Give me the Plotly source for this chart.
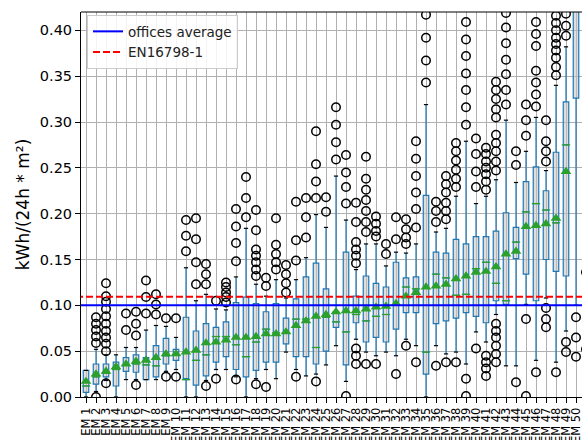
import plotly.graph_objects as go

LABELS = [f"EM {i}" for i in range(1, 52)]

Q1 = [0.005, 0.014, 0.022, 0.012, 0.028, 0.027, 0.019, 0.022, 0.036, 0.040,
      0.019, 0.013, 0.023, 0.038, 0.044, 0.030, 0.022, 0.029, 0.038, 0.038,
      0.058, 0.044, 0.044, 0.036, 0.050, 0.076, 0.035, 0.081, 0.060, 0.065,
      0.060, 0.074, 0.092, 0.092, 0.025, 0.080, 0.083, 0.086, 0.092, 0.088,
      0.081, 0.105, 0.101, 0.151, 0.134, 0.105, 0.150, 0.137, 0.132, 0.326,
      0.350]
MEDIAN = [0.012, 0.022, 0.026, 0.030, 0.035, 0.036, 0.035, 0.034, 0.045, 0.046,
          0.019, 0.040, 0.046, 0.066, 0.066, 0.057, 0.044, 0.060, 0.074, 0.070,
          0.070, 0.085, 0.085, 0.054, 0.087, 0.082, 0.071, 0.090, 0.083, 0.088,
          0.090, 0.100, 0.120, 0.118, 0.049, 0.134, 0.130, 0.111, 0.112, 0.140,
          0.147, 0.124, 0.105, 0.169, 0.202, 0.211, 0.204, 0.190, 0.275, 0.450,
          0.500]
Q3 = [0.029, 0.036, 0.036, 0.038, 0.043, 0.046, 0.043, 0.056, 0.064, 0.052,
      0.087, 0.072, 0.080, 0.076, 0.082, 0.103, 0.109, 0.102, 0.093, 0.102,
      0.086, 0.107, 0.131, 0.146, 0.118, 0.093, 0.158, 0.110, 0.132, 0.124,
      0.120, 0.147, 0.130, 0.131, 0.220, 0.158, 0.157, 0.172, 0.167, 0.175,
      0.175, 0.181, 0.201, 0.185, 0.235, 0.251, 0.225, 0.267, 0.322, 0.550,
      0.600]
WHISKER_LOW = [0.000, 0.006, 0.018, 0.000, 0.019, 0.019, 0.019, 0.019, 0.028, 0.030,
               0.000, 0.000, 0.018, 0.030, 0.030, 0.022, 0.000, 0.020, 0.030, 0.020,
               0.049, 0.030, 0.023, 0.025, 0.035, 0.056, 0.017, 0.063, 0.049, 0.045,
               0.049, 0.045, 0.063, 0.056, 0.000, 0.056, 0.047, 0.049, 0.036, 0.071,
               0.060, 0.090, 0.034, 0.034, 0.101, 0.040, 0.108, 0.038, 0.072, 0.100,
               0.160]
WHISKER_HIGH = [0.029, 0.052, 0.046, 0.046, 0.054, 0.054, 0.073, 0.078, 0.077, 0.065,
                0.141, 0.105, 0.112, 0.096, 0.095, 0.131, 0.184, 0.123, 0.110, 0.128,
                0.108, 0.128, 0.152, 0.199, 0.185, 0.241, 0.193, 0.139, 0.167, 0.167,
                0.143, 0.158, 0.157, 0.167, 0.319, 0.180, 0.184, 0.219, 0.279, 0.211,
                0.219, 0.237, 0.302, 0.234, 0.268, 0.305, 0.247, 0.340, 0.382, 0.700,
                0.750]
MEAN = [0.017, 0.025, 0.028, 0.033, 0.036, 0.039, 0.040, 0.043, 0.047, 0.047,
        0.049, 0.051, 0.059, 0.060, 0.062, 0.065, 0.065, 0.066, 0.069, 0.069,
        0.071, 0.078, 0.083, 0.088, 0.090, 0.093, 0.094, 0.094, 0.096, 0.098,
        0.099, 0.102, 0.110, 0.114, 0.120, 0.121, 0.123, 0.129, 0.132, 0.136,
        0.137, 0.142, 0.156, 0.159, 0.186, 0.187, 0.189, 0.195, 0.246, 0.460,
        0.520]
OUTLIERS = [
    [],
    [0.087, 0.080, 0.073, 0.066, 0.059, 0.000],
    [0.124, 0.110, 0.104, 0.096, 0.088, 0.080, 0.072, 0.065, 0.058, 0.050, 0.015],
    [],
    [0.091, 0.073],
    [0.093, 0.080, 0.067, 0.013],
    [0.127, 0.109, 0.091],
    [0.112, 0.101, 0.090],
    [0.086, 0.022],
    [0.086, 0.022],
    [0.193, 0.176, 0.159],
    [0.195, 0.172, 0.147, 0.123],
    [0.145, 0.134, 0.123, 0.012],
    [0.105, 0.020],
    [0.125, 0.120, 0.114, 0.109, 0.103],
    [0.205, 0.186, 0.168, 0.148, 0.019],
    [0.240, 0.217, 0.196],
    [0.204, 0.182, 0.161, 0.154, 0.147, 0.139, 0.132, 0.014],
    [0.130, 0.121, 0.011],
    [0.195, 0.166, 0.156, 0.147, 0.139],
    [0.144, 0.134, 0.124, 0.114],
    [0.213, 0.171, 0.149, 0.022],
    [0.217, 0.196, 0.174],
    [0.290, 0.254, 0.235, 0.217, 0.017],
    [0.218, 0.202],
    [0.316, 0.297, 0.278, 0.259],
    [0.264, 0.245, 0.229, 0.211, 0.001],
    [0.212, 0.191, 0.169, 0.161, 0.154, 0.146, 0.053, 0.045, 0.036],
    [0.262, 0.238, 0.226, 0.215, 0.203, 0.191, 0.180, 0.036],
    [0.197, 0.189, 0.181, 0.175, 0.036],
    [0.167, 0.156],
    [0.196, 0.172, 0.025],
    [0.194, 0.183, 0.174, 0.167, 0.056],
    [0.279, 0.260, 0.241, 0.223, 0.205, 0.185, 0.038],
    [0.417, 0.392, 0.367, 0.343],
    [0.213, 0.203, 0.191, 0.034],
    [0.241, 0.232, 0.223, 0.212, 0.203, 0.194, 0.038],
    [0.277, 0.268, 0.258, 0.248, 0.238, 0.229, 0.038],
    [0.409, 0.390, 0.372, 0.353, 0.335, 0.316, 0.297, 0.020, 0.001],
    [0.282, 0.265, 0.246, 0.229, 0.053],
    [0.272, 0.265, 0.257, 0.250, 0.243, 0.235, 0.226, 0.045, 0.038, 0.031, 0.023],
    [0.344, 0.335, 0.325, 0.314, 0.305, 0.286, 0.277, 0.268, 0.257, 0.247,
     0.080, 0.072, 0.065, 0.056, 0.047, 0.038],
    [0.419, 0.403, 0.386, 0.368, 0.352, 0.335, 0.319],
    [0.268, 0.253, 0.016],
    [0.319, 0.302, 0.285, 0.085, 0.001],
    [0.409, 0.396, 0.383, 0.356, 0.343, 0.330, 0.317, 0.027],
    [0.302, 0.279, 0.268, 0.257, 0.097, 0.085, 0.076],
    [0.416, 0.408, 0.400, 0.392, 0.385, 0.378, 0.370, 0.360, 0.351, 0.027],
    [0.418, 0.405, 0.394, 0.060, 0.049],
    [0.087, 0.065, 0.044],
    [0.136, 0.052],
]

OFFICES_AVERAGE = 0.100
EN16798_1 = 0.1095
Y_TICKS = [0.00, 0.05, 0.10, 0.15, 0.20, 0.25, 0.30, 0.35, 0.40]

POS = list(range(1, len(LABELS) + 1))
FONT = "DejaVu Sans"
BLUE_BOX = "#1f77b4"
GREEN = "#2ca02c"

fig = go.Figure()

fig.add_trace(go.Box(
    x=POS, q1=Q1, median=MEDIAN, q3=Q3,
    lowerfence=WHISKER_LOW, upperfence=WHISKER_HIGH,
    width=0.55, whiskerwidth=0, boxpoints=False,
    line=dict(color=BLUE_BOX, width=1.2),
    fillcolor="rgba(195,195,195,0.55)", showlegend=False, hoverinfo="skip",
))

# caps
fig.add_trace(go.Scatter(
    x=POS + POS, y=WHISKER_LOW + WHISKER_HIGH, mode="markers",
    marker=dict(symbol="line-ew", size=3, line=dict(color="black", width=1.2)),
    showlegend=False, hoverinfo="skip",
))

# medians
fig.add_trace(go.Scatter(
    x=POS, y=MEDIAN, mode="markers",
    marker=dict(symbol="line-ew", size=6, line=dict(color=GREEN, width=1.3)),
    showlegend=False, hoverinfo="skip",
))

# outliers
ox, oy = [], []
for p, vals in zip(POS, OUTLIERS):
    for v in vals:
        ox.append(p)
        oy.append(v)
fig.add_trace(go.Scatter(
    x=ox, y=oy, mode="markers",
    marker=dict(symbol="circle-open", size=8.5, color="black", line=dict(width=1.5)),
    showlegend=False, hoverinfo="skip",
))

# means
fig.add_trace(go.Scatter(
    x=POS, y=MEAN, mode="markers",
    marker=dict(symbol="triangle-up", size=9.5, color=GREEN, line=dict(width=0)),
    showlegend=False, hoverinfo="skip",
))

span = [0, len(LABELS) + 2]
fig.add_trace(go.Scatter(
    x=span, y=[OFFICES_AVERAGE] * 2, mode="lines", name="offices average",
    line=dict(color="#0000ff", width=2), hoverinfo="skip",
))
fig.add_trace(go.Scatter(
    x=span, y=[EN16798_1] * 2, mode="lines", name="EN16798-1",
    line=dict(color="#ff0000", width=2, dash="7px,3px"), hoverinfo="skip",
))

fig.update_layout(
    width=582, height=440,
    margin=dict(l=81, r=0, t=12, b=43, autoexpand=False),
    paper_bgcolor="white", plot_bgcolor="white",
    font=dict(family=FONT, color="black"),
    showlegend=True,
    legend=dict(
        x=0.012, y=0.992, xanchor="left", yanchor="top",
        bgcolor="rgba(255,255,255,0.85)", bordercolor="#cccccc", borderwidth=1,
        font=dict(family=FONT, size=13.5, color="#222"), itemwidth=30,
        tracegroupgap=0,
    ),
    xaxis=dict(
        range=[0.5, 50.6], tickmode="array", tickvals=POS, ticktext=LABELS,
        tickangle=-90, tickfont=dict(family=FONT, size=11.5, color="black"),
        ticklabeloverflow="allow",
        showgrid=True, gridcolor="#b0b0b0", gridwidth=1,
        showline=True, linecolor="black", linewidth=1,
        ticks="outside", ticklen=5, tickcolor="black", tickwidth=1,
        zeroline=False, automargin=False,
    ),
    yaxis=dict(
        range=[0, 0.42], tickmode="array", tickvals=Y_TICKS,
        tickformat=".2f", tickfont=dict(family=FONT, size=14.5, color="black"),
        showgrid=True, gridcolor="#b0b0b0", gridwidth=1,
        showline=True, linecolor="black", linewidth=1,
        ticks="outside", ticklen=5, tickcolor="black", tickwidth=1,
        zeroline=False, automargin=False,
        title=dict(text="kWh/(24h * m²)", font=dict(family=FONT, size=17, color="black"),
                   standoff=5),
    ),
    shapes=[dict(type="line", xref="paper", yref="paper", x0=0, x1=1, y0=1, y1=1,
                 line=dict(color="black", width=1))],
)

fig.write_html(
    "out.html",
    config={"displayModeBar": False},
    post_script="document.body.style.margin='0';document.body.style.overflow='hidden';",
)
